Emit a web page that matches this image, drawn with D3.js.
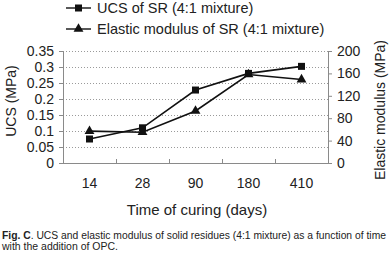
<!DOCTYPE html>
<html>
<head>
<meta charset="utf-8">
<script src="https://cdn.jsdelivr.net/npm/d3@7"></script>
<style>
  body { margin: 0; background: #fff; }
  svg { display: block; font-family: "Liberation Sans", Arial, sans-serif; }
</style>
</head>
<body>
<svg id="chart" width="391" height="253"></svg>
<script>
const days = ['14', '28', '90', '180', '410']
const ucs = [0.075, 0.11, 0.228, 0.28, 0.302]
const modulus = [57, 55, 93, 158, 149]
const ucsTicks = [0, 0.05, 0.1, 0.15, 0.2, 0.25, 0.3, 0.35]
const modTicks = [0, 40, 80, 120, 160, 200]

function draw() {
  const svg = d3.select('#chart')
  svg.selectAll('*').remove()

  const left = 63, right = 328, top = 51, bottom = 163
  const axisColor = '#8a8a8a'
  const font = '"Liberation Sans", Arial, sans-serif'

  const x = d3.scaleBand().domain(days).range([left, right])
  const yL = d3.scaleLinear().domain([0, 0.35]).range([bottom, top])
  const yR = d3.scaleLinear().domain([0, 200]).range([bottom, top])

  // grid
  svg.append('g').selectAll('line')
    .data(ucsTicks.filter(d => d > 0))
    .join('line')
    .attr('x1', left).attr('x2', right)
    .attr('y1', d => yL(d) + 0.5).attr('y2', d => yL(d) + 0.5)
    .attr('stroke', '#9a9a9a')
    .attr('stroke-width', 1)
    .attr('stroke-dasharray', '1,2')

  // left axis
  const gl = svg.append('g').attr('transform', `translate(${left},0)`)
    .call(d3.axisLeft(yL).tickValues(ucsTicks).tickFormat(d3.format('')).tickSize(4).tickPadding(5))
  gl.select('.domain').attr('stroke', axisColor)
  gl.selectAll('.tick line').attr('stroke', axisColor)
  gl.selectAll('text').attr('font-size', 14).attr('fill', '#222').attr('font-family', font)

  // right axis
  const gr = svg.append('g').attr('transform', `translate(${right},0)`)
    .call(d3.axisRight(yR).tickValues(modTicks).tickSize(4).tickPadding(5))
  gr.select('.domain').attr('stroke', axisColor)
  gr.selectAll('.tick line').attr('stroke', axisColor)
  gr.selectAll('text').attr('font-size', 14).attr('fill', '#222').attr('font-family', font)

  // x axis: line, ticks at band edges, labels at centres
  svg.append('line')
    .attr('x1', left).attr('x2', right)
    .attr('y1', bottom + 0.5).attr('y2', bottom + 0.5)
    .attr('stroke', axisColor)
  svg.append('g').selectAll('line')
    .data(days.slice(1))
    .join('line')
    .attr('x1', d => x(d) + 0.5).attr('x2', d => x(d) + 0.5)
    .attr('y1', bottom).attr('y2', bottom - 4)
    .attr('stroke', axisColor)
  svg.append('g').selectAll('text')
    .data(days)
    .join('text')
    .attr('x', d => x(d) + x.bandwidth() / 2)
    .attr('y', 188)
    .attr('text-anchor', 'middle')
    .attr('font-size', 14)
    .attr('fill', '#222')
    .text(d => d)

  // axis titles
  svg.append('text')
    .attr('transform', 'translate(16,101) rotate(-90)')
    .attr('text-anchor', 'middle')
    .attr('font-size', 14).attr('fill', '#222')
    .text('UCS (MPa)')
  svg.append('text')
    .attr('transform', 'translate(385,110) rotate(-90)')
    .attr('text-anchor', 'middle')
    .attr('font-size', 14).attr('fill', '#222')
    .text('Elastic modulus (MPa)')
  svg.append('text')
    .attr('x', 197).attr('y', 215)
    .attr('text-anchor', 'middle')
    .attr('font-size', 15).attr('fill', '#222')
    .text('Time of curing (days)')

  const cx = d => x(d) + x.bandwidth() / 2
  const tri = d3.symbol().type(d3.symbolTriangle).size(42)

  // modulus series
  svg.append('path')
    .datum(modulus)
    .attr('d', d3.line().x((d, i) => cx(days[i])).y(d => yR(d)))
    .attr('fill', 'none').attr('stroke', '#111').attr('stroke-width', 1.6)
  svg.append('g').selectAll('path')
    .data(modulus)
    .join('path')
    .attr('d', tri)
    .attr('transform', (d, i) => `translate(${cx(days[i])},${yR(d)})`)
    .attr('fill', '#111')

  // ucs series
  svg.append('path')
    .datum(ucs)
    .attr('d', d3.line().x((d, i) => cx(days[i])).y(d => yL(d)))
    .attr('fill', 'none').attr('stroke', '#111').attr('stroke-width', 1.6)
  svg.append('g').selectAll('rect')
    .data(ucs)
    .join('rect')
    .attr('x', (d, i) => cx(days[i]) - 3.5)
    .attr('y', d => yL(d) - 3.5)
    .attr('width', 7).attr('height', 7)
    .attr('fill', '#111')

  // legend
  const legend = [
    { label: 'UCS of SR (4:1 mixture)', y: 8, mark: 'square' },
    { label: 'Elastic modulus of SR (4:1 mixture)', y: 29, mark: 'triangle' }
  ]
  const lg = svg.append('g').selectAll('g').data(legend).join('g')
    .attr('transform', d => `translate(0,${d.y})`)
  lg.append('line')
    .attr('x1', 66).attr('x2', 91).attr('y1', 0).attr('y2', 0)
    .attr('stroke', '#111').attr('stroke-width', 1.4)
  lg.filter(d => d.mark === 'square').append('rect')
    .attr('x', 75).attr('y', -3.5).attr('width', 7).attr('height', 7).attr('fill', '#111')
  lg.filter(d => d.mark === 'triangle').append('path')
    .attr('d', tri).attr('transform', 'translate(78.5,0)').attr('fill', '#111')
  lg.append('text')
    .attr('x', 97).attr('y', 0).attr('dy', '0.35em')
    .attr('font-size', 14.5).attr('fill', '#222')
    .text(d => d.label)

  // caption
  const cap = svg.append('text').attr('x', 2).attr('y', 239)
    .attr('font-size', 10.2).attr('fill', '#222')
    .attr('textLength', 384).attr('lengthAdjust', 'spacingAndGlyphs')
  cap.append('tspan').attr('font-weight', 'bold').text('Fig. C')
  cap.append('tspan').text('. UCS and elastic modulus of solid residues (4:1 mixture) as a function of time')
  svg.append('text').attr('x', 2).attr('y', 249.5)
    .attr('font-size', 10.2).attr('fill', '#222')
    .attr('textLength', 116).attr('lengthAdjust', 'spacingAndGlyphs')
    .text('with the addition of OPC.')
}

document.addEventListener('DOMContentLoaded', draw, false)
</script>
</body>
</html>
